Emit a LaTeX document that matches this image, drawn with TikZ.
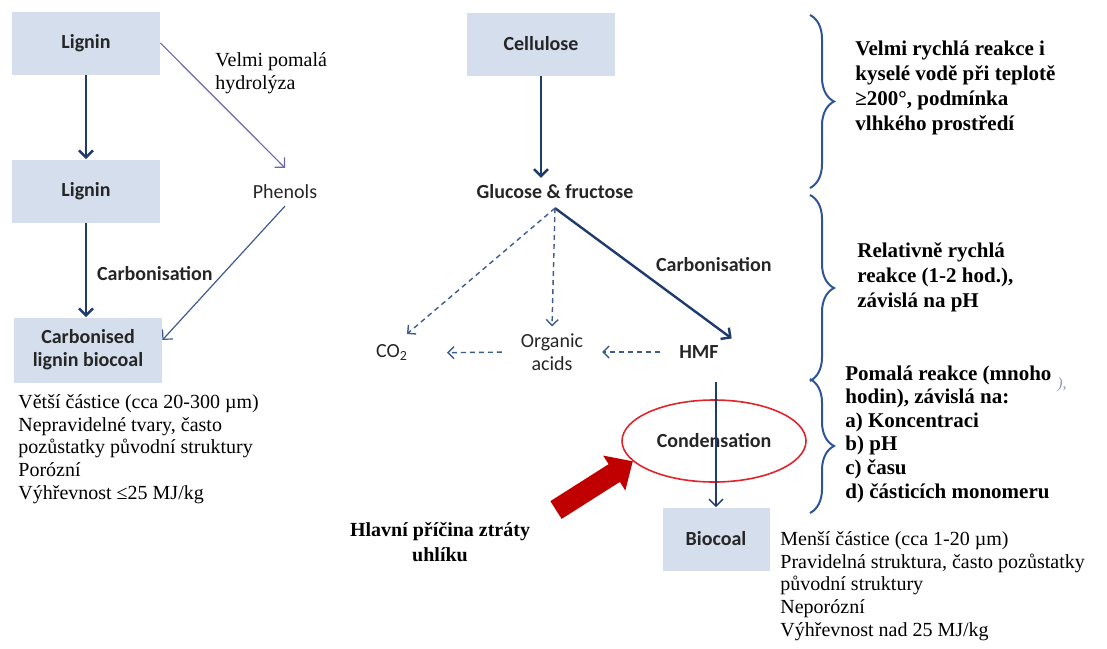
\documentclass[tikz,border=0pt]{standalone}
\usepackage{fontspec}
\setmainfont{Liberation Serif}
\newfontfamily\calibri{Carlito}
\usetikzlibrary{arrows.meta, shapes.geometric, decorations.pathreplacing}

\definecolor{boxblue}{HTML}{D4DEEC}
\definecolor{navy}{HTML}{1F3B6E}
\definecolor{lilac}{HTML}{6A63B8}
\definecolor{steel}{HTML}{3E5B8C}
\definecolor{bracecol}{HTML}{2F5597}
\definecolor{darktext}{HTML}{262626}
\definecolor{ringred}{HTML}{E0242C}
\definecolor{arrowred}{HTML}{C00000}

\begin{document}
\begin{tikzpicture}[x=0.5pt, y=-0.5pt,
  box/.style={fill=boxblue, minimum width=74pt, minimum height=31.5pt, align=center,
    font=\calibri\bfseries\fontsize{10}{11.5}\selectfont, text=darktext},
  chem/.style={font=\calibri\fontsize{10}{11.5}\selectfont, text=darktext, align=center},
  chembold/.style={font=\calibri\bfseries\fontsize{10}{11.5}\selectfont, text=darktext},
  note/.style={font=\fontsize{10}{11.4}\selectfont, align=left, inner sep=0},
  bracenote/.style={font=\bfseries\fontsize{10.5}{12.5}\selectfont, align=left, inner sep=0},
  main/.style={navy, line width=1.2pt, -{Straight Barb[length=3.5pt, width=7pt]}},
  thin/.style={line width=0.6pt, -{Straight Barb[length=3.5pt, width=7pt]}},
  side/.style={steel, line width=0.7pt, dash pattern=on 2.5pt off 2pt, -{Straight Barb[length=3pt, width=6pt]}},
  bracket/.style={bracecol, line width=1pt, decorate, decoration={brace, amplitude=12pt}}
]

  % Page size
  \useasboundingbox (0,0) rectangle (1107,648);

  % Lignin branch
  \node[box] (lig1) at (86,43) {Lignin};
  \node[box] (lig2) at (86,191) {Lignin};
  \node[box, minimum height=32.5pt] (carb) at (88,350) {Carbonised\\lignin biocoal};
  \node[chem] (phen) at (285,192) {Phenols};

  \draw[main] (lig1.south) -- (lig2.north);
  \draw[main] (lig2.south) -- (carb.north -| lig2.south);
  \draw[thin, lilac] (lig1.east) -- ([yshift=5pt]phen.north);
  \draw[thin, steel] (phen.south) -- ([yshift=5pt]carb.east);

  \node[chembold, anchor=west] (carbl) at (90,274) {Carbonisation};
  \node[note, anchor=west] (slow) at (215,73) {Velmi pomalá\\hydrolýza};

  % Cellulose branch
  \node[box] (cell) at (541,44) {Cellulose};
  \node[chembold] (glc) at (555,192) {Glucose \& fructose};
  \node[chem] (co2) at (392,353) {CO\textsubscript{2}};
  \node[chem] (acids) at (552,352) {Organic\\acids};
  \node[chembold] (hmf) at (699,352) {HMF};
  \node[box, minimum width=53.5pt] (bio) at (716,539) {Biocoal};
  \node[chembold, ellipse, draw=ringred, line width=0.8pt, minimum width=92pt, minimum height=41pt] (cond) at (714,441) {Condensation};

  \draw[main] (cell.south) -- (cell.south |- glc.north);
  \draw[main] ([yshift=-1pt]glc.south) -- ([xshift=3pt]hmf.north east);
  \draw[side] ([yshift=-1pt]glc.south) -- ([xshift=-4pt, yshift=2pt]co2.north east);
  \draw[side] ([yshift=-1pt]glc.south) -- (acids.north);
  \draw[side, shorten <=6pt, shorten >=6pt] (hmf.west) -- (acids.east);
  \draw[side, shorten <=6pt, shorten >=16pt] (acids.west) -- (co2.east);
  \draw[navy, line width=0.7pt, -{Straight Barb[length=3.5pt, width=7pt]}]
    ([yshift=-8pt]hmf.south -| bio.north) -- (bio.north);

  \node[chembold, anchor=west] (carbr) at (649,265) {Carbonisation};

  % Loss of carbon
  \coordinate (tail) at (556,510);
  \draw[arrowred, line width=10.5pt, -{Triangle[length=11pt, width=20pt]}] (tail) -- (cond.194);
  \node[font=\bfseries\fontsize{10}{12.5}\selectfont, align=center] (loss) at (440,542) {Hlavní příčina ztráty\\uhlíku};

  % Reaction rates
  \draw[bracket] (810,15) -- (810,188);
  \draw[bracket] (810,195) -- (810,381);
  \draw[bracket] (810,379) -- (810,513);

  \node[bracenote, anchor=west] (fast) at (855,88) {Velmi rychlá reakce i\\kyselé vodě při teplotě\\≥200°, podmínka\\vlhkého prostředí};
  \node[bracenote, anchor=west] (mid) at (857,277) {Relativně rychlá\\reakce (1-2 hod.),\\závislá na pH};
  \node[bracenote, anchor=west, font=\bfseries\fontsize{10.5}{11.8}\selectfont] (slowr) at (845,434) {Pomalá reakce (mnoho\\hodin), závislá na:\\a) Koncentraci\\b) pH\\c) času\\d) částicích monomeru};
  \node[font=\itshape\fontsize{8}{9}\selectfont, text=steel!60] (stray) at (1062,385) {),};

  % Properties
  \node[note, anchor=west] (bigp) at (18,449) {Větší částice (cca 20-300 µm)\\Nepravidelné tvary, často\\pozůstatky původní struktury\\Porózní\\Výhřevnost ≤25 MJ/kg};
  \node[note, anchor=west] (smallp) at (780,586) {Menší částice (cca 1-20 µm)\\Pravidelná struktura, často pozůstatky\\původní struktury\\Neporózní\\Výhřevnost nad 25 MJ/kg};

\end{tikzpicture}
\end{document}
